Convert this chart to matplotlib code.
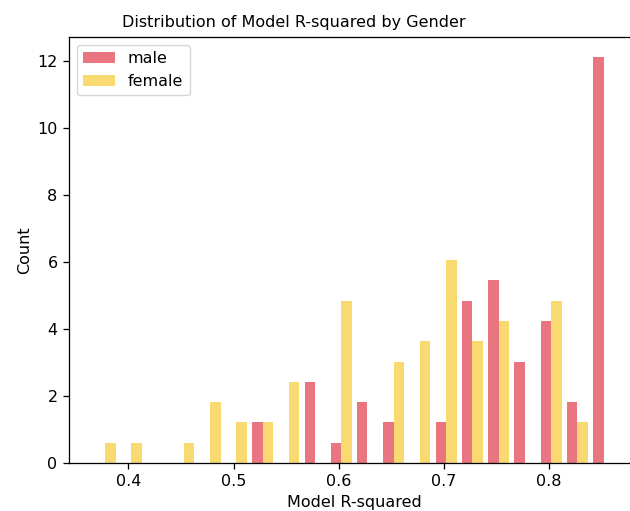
import numpy as np
import matplotlib
matplotlib.use('Agg')
import matplotlib.pyplot as plt

# histogram bins (20 equal bins over the R-squared range)
bin_lo = 0.3653
bin_hi = 0.8648
n_bins = 20

# counts per bin
male_counts = [0, 0, 0, 0, 0, 0, 2, 0, 4, 1, 3, 2, 0, 2, 8, 9, 5, 7, 3, 20]
female_counts = [1, 1, 0, 1, 3, 2, 2, 4, 0, 8, 0, 5, 6, 10, 6, 7, 0, 8, 2, 0]
labels = ['male', 'female']
colors = ['#E8757F', '#F8DA70']

# reference looks rendered ~1.15x the usual size
plt.rcParams['font.size'] = 11.5
plt.rcParams['axes.linewidth'] = 0.92
plt.rcParams['xtick.major.size'] = 4
plt.rcParams['ytick.major.size'] = 4
plt.rcParams['xtick.major.width'] = 0.92
plt.rcParams['ytick.major.width'] = 0.92
plt.rcParams['xtick.major.pad'] = 4
plt.rcParams['ytick.major.pad'] = 4

edges = np.linspace(bin_lo, bin_hi, n_bins + 1)
centers = (edges[:-1] + edges[1:]) / 2

fig = plt.figure(figsize=(6.3, 5.11), dpi=100)
# the reference is cropped on the right, so the axes run past the edge
ax = fig.add_axes([68.7 / 630, 48 / 511, 571.3 / 630, 426.3 / 511])

ax.hist([centers, centers], bins=edges, weights=[male_counts, female_counts],
        density=True, color=colors, label=labels)

ax.set_xlim(0.3431, 0.887)
ax.spines['right'].set_visible(False)
ax.set_title('Distribution of Model R-squared by Gender', x=0.3935,
             fontsize=11.5, pad=7)
ax.set_xlabel('Model R-squared')
ax.set_ylabel('Count')
ax.legend(loc='upper left')

fig.savefig('out.png', dpi=100)
